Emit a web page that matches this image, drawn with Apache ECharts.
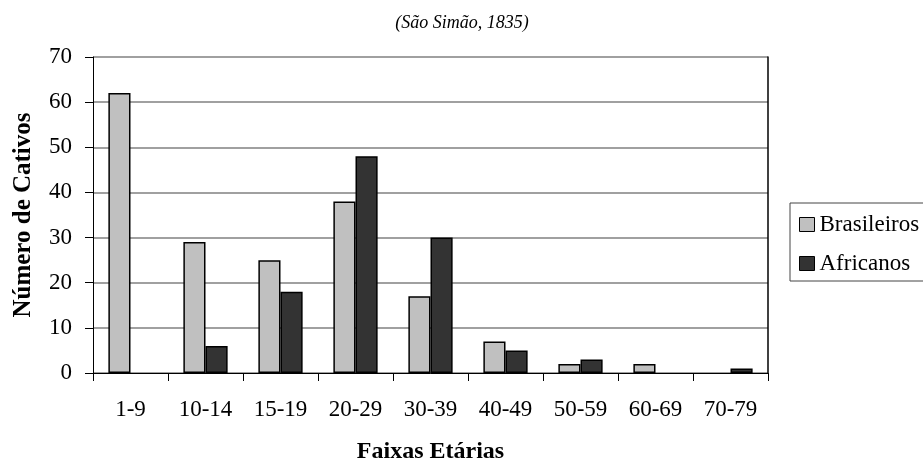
<!DOCTYPE html>
<html>
<head>
<meta charset="utf-8">
<script src="https://cdn.jsdelivr.net/npm/echarts@6/dist/echarts.min.js"></script>
<style>
  html, body { margin: 0; padding: 0; background: #fff; }
  #chart { width: 923px; height: 463px; }
</style>
</head>
<body>
<div id="chart"></div>
<script>
// faixas etárias
var categories = ['1-9', '10-14', '15-19', '20-29', '30-39', '40-49', '50-59', '60-69', '70-79'];
var brasileiros = [62, 29, 25, 38, 17, 7, 2, 2, 0];
var africanos = [0, 6, 18, 48, 30, 5, 3, 0, 1];
var yTicks = [0, 10, 20, 30, 40, 50, 60, 70];

var serif = '"Liberation Serif", "DejaVu Serif", serif';
var chart = echarts.init(document.getElementById('chart'));

// valor zero: nenhuma barra desenhada
function semZero(arr) {
  return arr.map(function (v) {
    return v === 0 ? '-' : v;
  });
}

var option = {
  animation: false,
  backgroundColor: '#fff',
  title: {
    text: '(São Simão, 1835)',
    left: 462,
    top: 14,
    padding: 0,
    textAlign: 'center',
    textStyle: { fontFamily: serif, fontStyle: 'italic', fontWeight: 'normal', fontSize: 18, color: '#000' }
  },
  legend: {
    orient: 'vertical',
    left: 790,
    top: 203,
    itemWidth: 15,
    itemHeight: 14,
    itemGap: 16,
    padding: [10, 10, 6, 9],
    borderColor: '#444',
    borderWidth: 1,
    borderRadius: 0,
    icon: 'rect',
    textStyle: { fontFamily: serif, fontSize: 23, lineHeight: 23, color: '#000' },
    data: [
      { name: 'Brasileiros', itemStyle: { borderColor: '#000', borderWidth: 1 } },
      { name: 'Africanos', itemStyle: { borderColor: '#000', borderWidth: 1 } }
    ]
  },
  grid: { left: 93, right: 155, top: 57, bottom: 90, outerBoundsMode: 'none', containLabel: false },
  xAxis: {
    type: 'category',
    data: categories,
    name: 'Faixas Etárias',
    nameLocation: 'middle',
    nameGap: 67,
    nameTextStyle: { fontFamily: serif, fontWeight: 'bold', fontSize: 24, color: '#000' },
    axisLine: { lineStyle: { color: '#000', width: 1 } },
    axisTick: { show: true, length: 8, alignWithLabel: false, lineStyle: { color: '#000' } },
    axisLabel: { fontFamily: serif, fontSize: 23, color: '#000', margin: 25 }
  },
  yAxis: [{
    type: 'value',
    min: 0,
    max: 70,
    interval: 10,
    name: 'Número de Cativos',
    nameLocation: 'middle',
    nameGap: 57,
    nameTextStyle: { fontFamily: serif, fontWeight: 'bold', fontSize: 25, color: '#000' },
    axisLine: { show: true, lineStyle: { color: '#000', width: 1 } },
    axisTick: { show: true, length: 8, lineStyle: { color: '#000' } },
    axisLabel: {
      fontFamily: serif, fontSize: 23, color: '#000', margin: 21,
      formatter: function (v) { return yTicks.indexOf(v) >= 0 ? String(v) : ''; }
    },
    splitLine: { show: true, lineStyle: { color: '#808080', width: 1.5 } }
  }, {
    // borda direita da área do gráfico
    type: 'value',
    min: 0,
    max: 70,
    interval: 10,
    position: 'right',
    axisLine: { show: true, lineStyle: { color: '#000', width: 1.5 } },
    axisTick: { show: false },
    axisLabel: { show: false },
    splitLine: { show: false }
  }],
  series: [
    {
      name: 'Brasileiros',
      type: 'bar',
      data: semZero(brasileiros),
      barGap: '0%',
      barCategoryGap: '41%',
      itemStyle: { color: '#c0c0c0', borderColor: '#000', borderWidth: 1.5 }
    },
    {
      name: 'Africanos',
      type: 'bar',
      data: semZero(africanos),
      itemStyle: { color: '#333333', borderColor: '#000', borderWidth: 1.5 }
    }
  ]
};

chart.setOption(option);
</script>
</body>
</html>
